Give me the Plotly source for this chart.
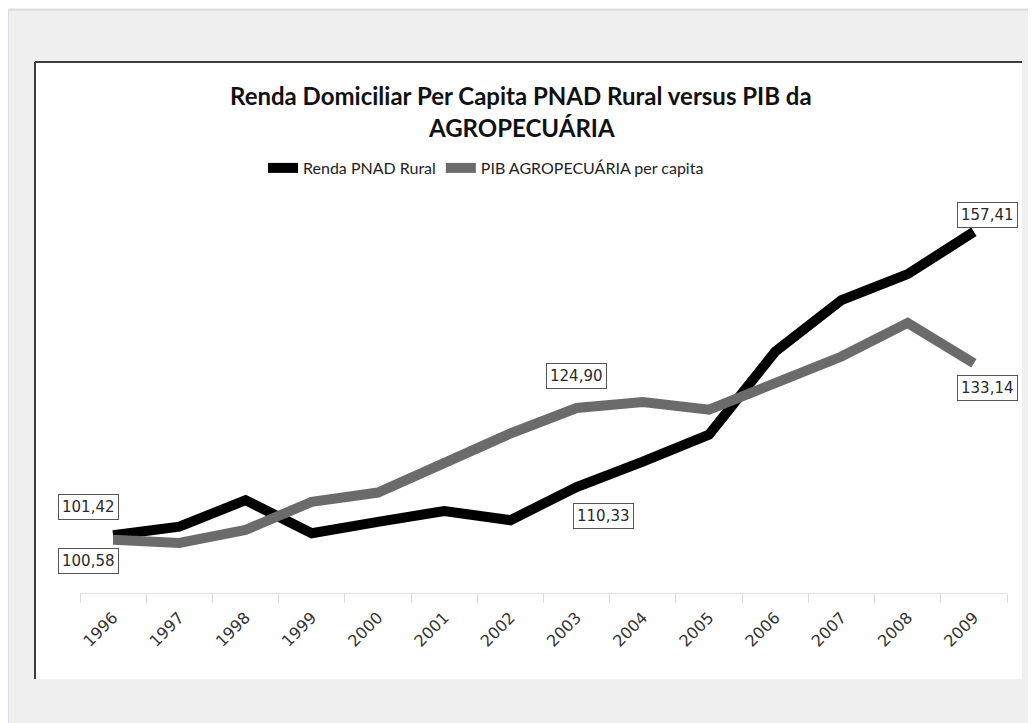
import plotly.graph_objects as go

# ---- data ----
years = ["1996", "1997", "1998", "1999", "2000", "2001", "2002",
         "2003", "2004", "2005", "2006", "2007", "2008", "2009"]
renda_pnad_rural = [101.42, 103.0, 107.9, 101.8, 103.9, 105.9, 104.2,
                    110.33, 115.0, 120.0, 135.3, 144.8, 149.6, 157.41]
pib_agro_pc = [100.58, 100.0, 102.4, 107.6, 109.3, 114.7, 120.2,
               124.90, 126.0, 124.6, 129.5, 134.4, 140.6, 133.14]
series_names = ["Renda PNAD Rural", "PIB AGROPECUÁRIA per capita"]
title_lines = ["Renda Domiciliar Per Capita PNAD Rural versus PIB da", "AGROPECUÁRIA"]

# labelled points: (series index, year, text, xshift, yshift)
labels = [
    (0, "1996", "101,42", -25, 28),
    (1, "1996", "100,58", -25, -21),
    (1, "2003", "124,90", 0, 32),
    (0, "2003", "110,33", 27, -29),
    (0, "2009", "157,41", 14, 17),
    (1, "2009", "133,14", 14, -25),
]

OFF = 8  # page body margin
W, H = 1036 - OFF, 723 - OFF
L, R, T, B = 80 - OFF, 29, 215 - OFF, 130
PW, PH = W - L - R, H - T - B


def px(x):
    # reference-pixel x -> paper
    return (x - OFF - L) / PW


def py(y):
    # reference-pixel y -> paper
    return (H - B - (y - OFF)) / PH


fig = go.Figure()
fig.add_trace(go.Scatter(x=years, y=renda_pnad_rural, name=series_names[0],
                         mode="lines", line=dict(color="#000000", width=10)))
fig.add_trace(go.Scatter(x=years, y=pib_agro_pc, name=series_names[1],
                         mode="lines", line=dict(color="#6b6b6b", width=10)))

series = [renda_pnad_rural, pib_agro_pc]
for si, yr, txt, xs, ys in labels:
    i = years.index(yr)
    fig.add_annotation(x=i, y=series[si][i], xref="x", yref="y",
                       text=txt, showarrow=False, xshift=xs, yshift=ys,
                       font=dict(family="DejaVu Sans", size=15, color="#2a2a2a"),
                       bgcolor="white", bordercolor="#555555", borderwidth=1,
                       borderpad=3)

for txt, yy in zip(title_lines, [96, 127]):
    fig.add_annotation(x=px(521), y=py(yy), xref="paper", yref="paper", text="<b>%s</b>" % txt,
                       showarrow=False, xanchor="center", yanchor="middle",
                       font=dict(family="Lato", size=24, color="#111111"))

shapes = [
    # outer light border
    dict(type="line", xref="paper", yref="paper", x0=px(8), x1=px(1036), y0=py(10), y1=py(10),
         line=dict(color="#dcdcec", width=2), layer="below"),
    dict(type="line", xref="paper", yref="paper", x0=px(8), x1=px(8), y0=py(10), y1=py(723),
         line=dict(color="#dcdcec", width=2), layer="below"),
    # white chart area
    dict(type="rect", xref="paper", yref="paper", x0=px(35), x1=px(1022), y0=py(62), y1=py(679),
         fillcolor="white", line=dict(width=0), layer="below"),
    dict(type="line", xref="paper", yref="paper", x0=px(35), x1=px(1022), y0=py(62), y1=py(62),
         line=dict(color="#3c3c3c", width=2), layer="below"),
    dict(type="line", xref="paper", yref="paper", x0=px(35), x1=px(35), y0=py(62), y1=py(679),
         line=dict(color="#3c3c3c", width=2), layer="below"),
]

fig.update_layout(
    width=W, height=H,
    margin=dict(l=L, r=R, t=T, b=B),
    paper_bgcolor="#efefef",
    plot_bgcolor="white",
    shapes=shapes,
    legend=dict(orientation="h", x=px(486), xanchor="center", y=py(168), yanchor="middle",
                font=dict(family="Lato", size=16, color="#222222"),
                bgcolor="rgba(0,0,0,0)", itemwidth=30, tracegroupgap=0),
    xaxis=dict(type="category", tickson="boundaries", ticks="outside", ticklen=9,
               tickcolor="#d9d9d9", showline=True, linecolor="#e3e3e3", linewidth=1,
               showgrid=False, tickangle=-45, automargin=False, ticklabelstandoff=8,
               tickfont=dict(family="DejaVu Sans", size=16, color="#333333"),
               range=[-0.5, len(years) - 0.5]),
    yaxis=dict(range=[90.77, 160.51], showticklabels=False, ticks="", showline=False,
               showgrid=False, zeroline=False, automargin=False),
    showlegend=True,
)

fig.write_html("out.html")
